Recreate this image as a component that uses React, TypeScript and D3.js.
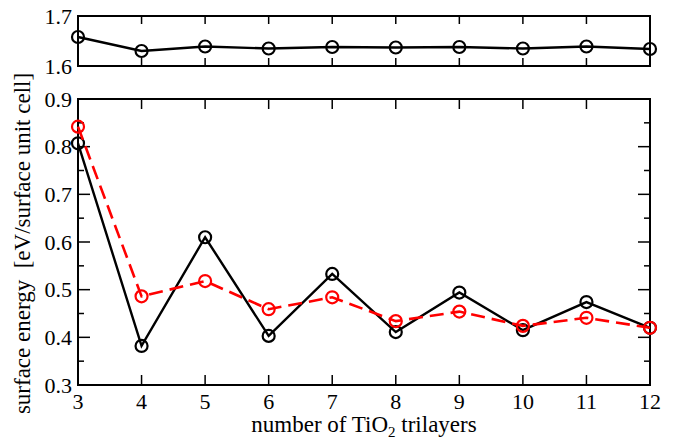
import React from "react";
import * as d3 from "d3";

const layers = [3, 4, 5, 6, 7, 8, 9, 10, 11, 12];
const topSeries = [1.658, 1.630, 1.639, 1.635, 1.638, 1.637, 1.638, 1.635, 1.639, 1.634];
const blackSeries = [0.807, 0.382, 0.610, 0.403, 0.533, 0.411, 0.494, 0.415, 0.474, 0.420];
const redSeries = [0.842, 0.486, 0.518, 0.459, 0.484, 0.434, 0.454, 0.424, 0.441, 0.420];
const topTicks = [1.6, 1.7];
const bottomMajor = [0.3, 0.4, 0.5, 0.6, 0.7, 0.8, 0.9];
const bottomMinor = [0.35, 0.45, 0.55, 0.65, 0.75, 0.85];

const W = 676, H = 441;
const L = 78, R = 650;
const FONT = "Liberation Serif";
const FS = 22;
const LFS = 23;

export default function App() {
  const x = d3.scaleLinear().domain([3, 12]).range([L, R]);
  const yTop = d3.scaleLinear().domain([1.6, 1.7]).range([66, 16]);
  const yBot = d3.scaleLinear().domain([0.3, 0.9]).range([385, 99]);

  const lineTop = d3.line<number>().x((_, i) => x(layers[i])).y((d) => yTop(d));
  const lineBot = d3.line<number>().x((_, i) => x(layers[i])).y((d) => yBot(d));

  const xTicksInner = layers.slice(1, -1);

  return (
    <svg width={W} height={H} style={{ position: "absolute", left: 0, top: 0, background: "#fff" }}>
      <rect x={0} y={0} width={W} height={H} fill="#fff" />
      {/* Top panel */}
      <g>
        {xTicksInner.map((t) => (
          <g key={"tt" + t}>
            <line x1={x(t)} x2={x(t)} y1={yTop(1.7)} y2={yTop(1.7) + 8} stroke="#000" strokeWidth={1.5} />
            <line x1={x(t)} x2={x(t)} y1={yTop(1.6)} y2={yTop(1.6) - 8} stroke="#000" strokeWidth={1.5} />
          </g>
        ))}
        <rect x={L} y={yTop(1.7)} width={R - L} height={yTop(1.6) - yTop(1.7)} fill="none" stroke="#000" strokeWidth={2} />
        {topTicks.map((t) => (
          <text key={"tl" + t} x={L - 6} y={yTop(t) + 7.5} textAnchor="end" fontFamily={FONT} fontSize={FS}>
            {t.toFixed(1)}
          </text>
        ))}
        <path d={lineTop(topSeries) || ""} fill="none" stroke="#000" strokeWidth={2.4} />
        {topSeries.map((v, i) => (
          <circle key={"tc" + i} cx={x(layers[i])} cy={yTop(v)} r={6} fill="none" stroke="#000" strokeWidth={2.2} />
        ))}
      </g>
      {/* Bottom panel */}
      <g>
        {xTicksInner.map((t) => (
          <g key={"bt" + t}>
            <line x1={x(t)} x2={x(t)} y1={yBot(0.9)} y2={yBot(0.9) + 10} stroke="#000" strokeWidth={1.5} />
            <line x1={x(t)} x2={x(t)} y1={yBot(0.3)} y2={yBot(0.3) - 10} stroke="#000" strokeWidth={1.5} />
          </g>
        ))}
        {bottomMajor.slice(1, -1).map((t) => (
          <g key={"bm" + t}>
            <line x1={L} x2={L + 12} y1={yBot(t)} y2={yBot(t)} stroke="#000" strokeWidth={1.5} />
            <line x1={R} x2={R - 12} y1={yBot(t)} y2={yBot(t)} stroke="#000" strokeWidth={1.5} />
          </g>
        ))}
        {bottomMinor.map((t) => (
          <g key={"bn" + t}>
            <line x1={L} x2={L + 6} y1={yBot(t)} y2={yBot(t)} stroke="#000" strokeWidth={1.5} />
            <line x1={R} x2={R - 6} y1={yBot(t)} y2={yBot(t)} stroke="#000" strokeWidth={1.5} />
          </g>
        ))}
        <rect x={L} y={yBot(0.9)} width={R - L} height={yBot(0.3) - yBot(0.9)} fill="none" stroke="#000" strokeWidth={2} />
        {bottomMajor.map((t) => (
          <text key={"bl" + t} x={L - 6} y={yBot(t) + 7.5} textAnchor="end" fontFamily={FONT} fontSize={FS}>
            {t.toFixed(1)}
          </text>
        ))}
        {layers.map((t) => (
          <text key={"xl" + t} x={x(t)} y={409} textAnchor="middle" fontFamily={FONT} fontSize={FS}>
            {t}
          </text>
        ))}
        <path d={lineBot(blackSeries) || ""} fill="none" stroke="#000" strokeWidth={2.4} />
        {blackSeries.map((v, i) => (
          <circle key={"bc" + i} cx={x(layers[i])} cy={yBot(v)} r={6} fill="none" stroke="#000" strokeWidth={2.2} />
        ))}
        <path d={lineBot(redSeries) || ""} fill="none" stroke="#ff0000" strokeWidth={2.6} strokeDasharray="14,7" />
        {redSeries.map((v, i) => (
          <circle key={"rc" + i} cx={x(layers[i])} cy={yBot(v)} r={6} fill="none" stroke="#ff0000" strokeWidth={2.2} />
        ))}
      </g>
      <text x={364} y={432} textAnchor="middle" fontFamily={FONT} fontSize={LFS}>
        number of TiO<tspan dy={5} fontSize={15}>2</tspan><tspan dy={-5}> trilayers</tspan>
      </text>
      <text
        transform={`translate(30, ${(72 + 415) / 2}) rotate(-90)`}
        textAnchor="middle"
        fontFamily={FONT}
        fontSize={LFS}
        xmlSpace="preserve"
      >
        surface energy  [eV/surface unit cell]
      </text>
    </svg>
  );
}
